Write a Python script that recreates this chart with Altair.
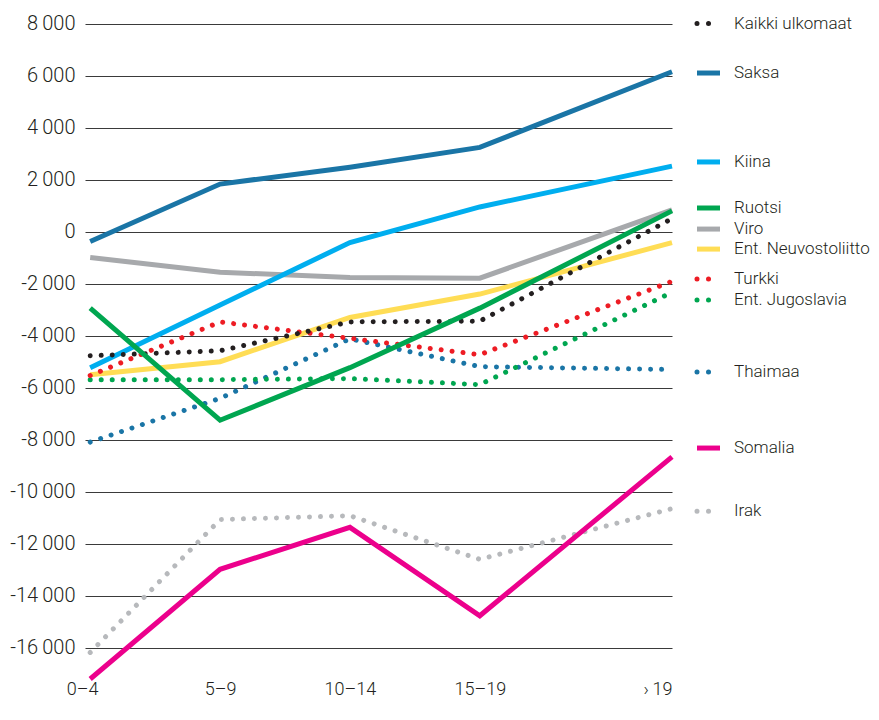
import altair as alt
import pandas as pd

# Age groups (years since arrival) and their x midpoints
categories = ["0–4", "5–9", "10–14", "15–19", "›\u200919"]
age_mid = [2, 7, 12, 17, 24.4]

series_names = ["Kaikki ulkomaat", "Saksa", "Kiina", "Ruotsi", "Viro",
                "Ent. Neuvostoliitto", "Turkki", "Ent. Jugoslavia",
                "Thaimaa", "Somalia", "Irak"]

kaikki = [-4770, -4580, -3470, -3440, 500]
saksa = [-380, 1830, 2480, 3240, 6150]
kiina = [-5230, -2820, -420, 950, 2520]
ruotsi = [-2940, -7250, -5230, -2940, 800]
viro = [-990, -1560, -1760, -1790, 840]
neuvosto = [-5500, -5000, -3300, -2400, -420]
turkki = [-5530, -3470, -4100, -4730, -1910]
jugoslavia = [-5690, -5690, -5650, -5880, -2330]
thaimaa = [-8090, -6410, -4120, -5190, -5300]
somalia = [-17200, -12980, -11370, -14770, -8660]
irak = [-16180, -11070, -10920, -12600, -10650]

series_values = [kaikki, saksa, kiina, ruotsi, viro, neuvosto,
                 turkki, jugoslavia, thaimaa, somalia, irak]

colors = ["#231f20", "#1a75a6", "#00aeef", "#00a650", "#a7a9ac",
          "#ffdd55", "#ed1c24", "#00a650", "#1a75a6", "#ec008c", "#b7b9bc"]
dotted = [True, False, False, False, False, False, True, True, True, False, True]

legend_y = [8000, 6100, 2680, 910, 100, -670, -1820, -2630, -5400, -8320, -10750]

draw_order = ["Viro", "Ent. Neuvostoliitto", "Kiina", "Saksa", "Irak", "Thaimaa",
              "Ent. Jugoslavia", "Turkki", "Kaikki ulkomaat", "Ruotsi", "Somalia"]

y_ticks = list(range(-16000, 8001, 2000))

rows = []
for name, vals in zip(series_names, series_values):
    for c, m, v in zip(categories, age_mid, vals):
        rows.append({"series": name, "age": c, "mid": m, "value": v})
df = pd.DataFrame(rows)

leg_df = pd.DataFrame({"series": series_names, "ly": legend_y,
                       "x0": [15] * len(series_names), "x1": [38] * len(series_names),
                       "xt": [52] * len(series_names)})

FONT = "Roboto"
TXT = "#231f20"
Y_DOMAIN = [-17200, 8600]
H = 671

x_label_expr = " : ".join(f"datum.value == {m} ? '{c}'" for m, c in zip(age_mid, categories)) + " : ''"
y_label_expr = "(datum.value < 0 ? '-' : '') + replace(format(abs(datum.value), ','), ',', '\u2009')"

x_enc = alt.X("mid:Q", title=None,
              scale=alt.Scale(domain=[1.8, 24.4], nice=False, zero=False),
              axis=alt.Axis(values=age_mid, labelExpr=x_label_expr, grid=False,
                            domain=False, ticks=False, labelPadding=1,
                            labelFont=FONT, labelFontSize=18, labelFontWeight=300,
                            labelColor=TXT,
                            labelAlign={"condition": {"test": "datum.value > 20", "value": "right"}, "value": "center"},
                            labelOffset={"condition": {"test": "datum.value < 3", "value": -8}, "value": 0}))
y_enc = alt.Y("value:Q", title=None,
              scale=alt.Scale(domain=Y_DOMAIN, nice=False, zero=False),
              axis=alt.Axis(values=y_ticks, labelExpr=y_label_expr, grid=True,
                            gridColor="#3a3a3a", gridWidth=1.1, domain=False, ticks=False,
                            labelPadding=10, labelFont=FONT, labelFontSize=20,
                            labelFontWeight=300, labelColor=TXT,
                            minExtent=77, maxExtent=77))

style = {n: (c, d) for n, c, d in zip(series_names, colors, dotted)}

layers = []
for name in draw_order:
    col, dot = style[name]
    if dot:
        mk = alt.Chart(df).mark_line(color=col, strokeWidth=5, strokeDash=[0.01, 11],
                                     strokeCap="round", strokeJoin="round")
    else:
        mk = alt.Chart(df).mark_line(color=col, strokeWidth=5, strokeJoin="miter")
    layers.append(mk.transform_filter(alt.datum.series == name).encode(x=x_enc, y=y_enc))

main = alt.layer(*layers).properties(width=587, height=H)

lx = alt.Scale(domain=[0, 175], nice=False, zero=False)
ly = alt.Scale(domain=Y_DOMAIN, nice=False, zero=False)
leg_layers = []
for name in series_names:
    col, dot = style[name]
    if dot:
        mk = alt.Chart(leg_df).mark_rule(color=col, strokeWidth=5, strokeDash=[0.01, 11.5],
                                         strokeCap="round")
    else:
        mk = alt.Chart(leg_df).mark_rule(color=col, strokeWidth=5)
    leg_layers.append(mk.transform_filter(alt.datum.series == name).encode(
        x=alt.X("x0:Q", scale=lx, axis=None), x2="x1:Q",
        y=alt.Y("ly:Q", scale=ly, axis=None)))
leg_text = alt.Chart(leg_df).mark_text(align="left", baseline="middle", font=FONT,
                                       fontSize=17, fontWeight=300, color=TXT).encode(
    x=alt.X("xt:Q", scale=lx, axis=None),
    y=alt.Y("ly:Q", scale=ly, axis=None),
    text="series:N")
legend = alt.layer(*leg_layers, leg_text).properties(width=175, height=H)

chart = alt.hconcat(main, legend, spacing=0).properties(
    padding={"left": 0, "top": 0, "right": 0, "bottom": 0}
).configure_view(stroke=None).configure_concat(spacing=0)

chart.save("out.html", embed_options={"renderer": "svg", "actions": False})
